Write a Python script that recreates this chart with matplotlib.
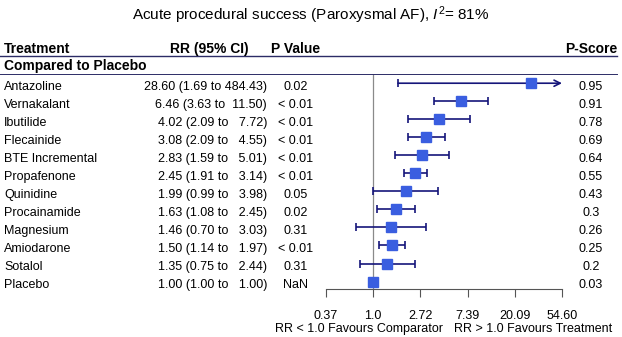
import numpy as np
import matplotlib
matplotlib.use("Agg")
import matplotlib.pyplot as plt
from matplotlib.transforms import blended_transform_factory

plt.rcParams['font.family'] = ['Liberation Sans', 'DejaVu Sans']
plt.rcParams['mathtext.fontset'] = 'custom'
plt.rcParams['mathtext.rm'] = 'Liberation Sans'
plt.rcParams['mathtext.it'] = 'Liberation Sans:italic'

# data
treatments = ["Antazoline", "Vernakalant", "Ibutilide", "Flecainide", "BTE Incremental",
              "Propafenone", "Quinidine", "Procainamide", "Magnesium", "Amiodarone",
              "Sotalol", "Placebo"]
rr = [28.60, 6.46, 4.02, 3.08, 2.83, 2.45, 1.99, 1.63, 1.46, 1.50, 1.35, 1.00]
ci_lo = [1.69, 3.63, 2.09, 2.09, 1.59, 1.91, 0.99, 1.08, 0.70, 1.14, 0.75, 1.00]
ci_hi = [484.43, 11.50, 7.72, 4.55, 5.01, 3.14, 3.98, 2.45, 3.03, 1.97, 2.44, 1.00]
p_values = ["0.02", "< 0.01", "< 0.01", "< 0.01", "< 0.01", "< 0.01", "0.05", "0.02",
            "0.31", "< 0.01", "0.31", "NaN"]
p_scores = ["0.95", "0.91", "0.78", "0.69", "0.64", "0.55", "0.43", "0.3", "0.26",
            "0.25", "0.2", "0.03"]
tick_vals = np.exp(np.arange(-1, 5))
tick_labels = ["0.37", "1.0", "2.72", "7.39", "20.09", "54.60"]

navy = "#15157a"
blue = "#3a5ee0"
line_col = "#2c2c66"

W, H = 622, 337
fig = plt.figure(figsize=(W / 100, H / 100), dpi=100)
ax = fig.add_axes([326 / W, (H - 289.3) / H, 236 / W, 215.1 / H])

xmin, xmax = tick_vals[0], tick_vals[-1]
ax.set_xscale('log')
ax.set_xlim(xmin, xmax)
ax.set_ylim(11.43, -0.5)

ax.axvline(1.0, color="#8a8a8a", lw=0.9, zorder=1)

y = np.arange(len(treatments))
rr_a = np.array(rr)
lo_a = np.array(ci_lo)
hi_a = np.array(ci_hi)
inside = hi_a <= xmax

ax.errorbar(rr_a[inside], y[inside], xerr=[rr_a[inside] - lo_a[inside], hi_a[inside] - rr_a[inside]],
            fmt='none', ecolor=navy, elinewidth=1.2, capsize=3, capthick=1.2, zorder=2)
# CI running past the axis: arrow to the edge
for i in y[~inside]:
    ax.annotate('', xy=(xmax, i), xytext=(lo_a[i], i),
                arrowprops=dict(arrowstyle='->', color=navy, lw=1.2,
                                shrinkA=0, shrinkB=0, mutation_scale=11),
                annotation_clip=False, zorder=2)
    ax.plot([lo_a[i]], [i], marker='|', ms=6, mew=1.2, color=navy, zorder=2)
ax.plot(rr_a, y, 's', color=blue, ms=7, zorder=3, clip_on=False)

ax.set_xticks(tick_vals)
ax.set_xticklabels(tick_labels)
ax.minorticks_off()
ax.tick_params(axis='x', direction='out', length=6, width=0.8, color="#555555",
               labelsize=9, pad=9)
ax.set_yticks([])
for s in ['left', 'top', 'right']:
    ax.spines[s].set_visible(False)
ax.spines['bottom'].set_color("#555555")
ax.spines['bottom'].set_linewidth(0.8)
ax.patch.set_alpha(0)

tr = blended_transform_factory(fig.transFigure, ax.transData)

# header row
hdr = dict(transform=tr, fontsize=10, fontweight='bold', va='baseline', color='black')
ax.text(4 / W, -2 + 0.34, "Treatment", ha='left', **hdr)
ax.text(249 / W, -2 + 0.34, "RR (95% CI)", ha='right', **hdr)
ax.text(296 / W, -2 + 0.34, "P Value", ha='center', **hdr)
ax.text(591 / W, -2 + 0.34, "P-Score", ha='center', **hdr)
ax.text(4 / W, -1 + 0.28, "Compared to Placebo", ha='left', **hdr)

ax.plot([0, 617 / W], [-1.5, -1.5], transform=tr, color=line_col, lw=1.0, clip_on=False)
ax.plot([0, 617 / W], [-0.5, -0.5], transform=tr, color=line_col, lw=0.7, clip_on=False)

body = dict(transform=tr, fontsize=9, va='baseline', color='black')
for i, name in enumerate(treatments):
    yb = i + 0.36
    ax.text(4 / W, yb, name, ha='left', **body)
    ax.text(267 / W, yb, f"{rr[i]:.2f} ({ci_lo[i]:.2f} to {ci_hi[i]:>6.2f})", ha='right', **body)
    ax.text(296 / W, yb, p_values[i], ha='center', **body)
    ax.text(591 / W, yb, p_scores[i], ha='center', **body)

fig.text(443 / W, 1 - 329 / H, "RR < 1.0 Favours Comparator", ha='right', va='center', fontsize=9)
fig.text(454 / W, 1 - 329 / H, "RR > 1.0 Favours Treatment", ha='left', va='center', fontsize=9)

fig.text(311 / W, 1 - 15 / H, "Acute procedural success (Paroxysmal AF), $I^2$= 81%",
         ha='center', va='center', fontsize=11)

fig.savefig("out.png", dpi=100)
